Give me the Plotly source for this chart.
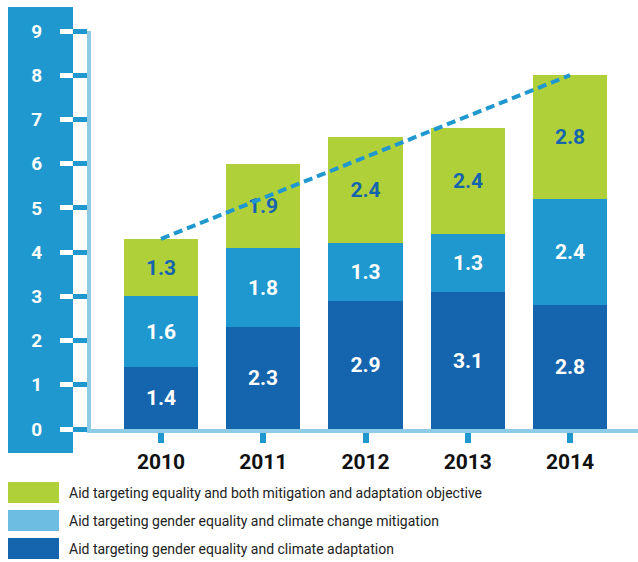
import plotly.graph_objects as go

# Data (USD billion)
years = ["2010", "2011", "2012", "2013", "2014"]
adaptation = [1.4, 2.3, 2.9, 3.1, 2.8]
mitigation = [1.6, 1.8, 1.3, 1.3, 2.4]
both = [1.3, 1.9, 2.4, 2.4, 2.8]
trend_years = ["2010", "2014"]
trend_values = [4.3, 8.0]
y_ticks = [0, 1, 2, 3, 4, 5, 6, 7, 8, 9]
legend_labels = [
    "Aid targeting equality and both mitigation and adaptation objective",
    "Aid targeting gender equality and climate change mitigation",
    "Aid targeting gender equality and climate adaptation",
]

W, H = 638, 562
DARK = "#1565AE"
MID = "#1E98CE"
GREEN = "#B0D03A"
LEGEND_COLORS = [GREEN, "#6CBDE1", DARK]
AXIS = "rgba(30,152,206,0.5)"
FONT = "Roboto"

# plot area in pixels
PX_LEFT, PX_TOP, PX_BOTTOM = 91, 31, 429
plot_h = PX_BOTTOM - PX_TOP


def px_x(px):
    return px / W


def px_y(py):
    return (PX_BOTTOM - py) / plot_h


fig = go.Figure()

series = [
    (adaptation, DARK, "white"),
    (mitigation, MID, "white"),
    (both, GREEN, DARK),
]
for vals, color, tcolor in series:
    fig.add_trace(go.Bar(
        x=years, y=vals, width=0.724,
        marker=dict(color=color, line=dict(width=0)),
        text=[f"{v:.1f}" for v in vals],
        textposition="inside", insidetextanchor="middle", textangle=0,
        textfont=dict(family=FONT, size=21, color=tcolor, weight="bold"),
        showlegend=False, hoverinfo="skip",
    ))

fig.add_trace(go.Scatter(
    x=trend_years, y=trend_values, mode="lines",
    line=dict(color=MID, width=4, dash="9px,5px"),
    showlegend=False, hoverinfo="skip",
))

# white tick labels on the blue band
fig.add_trace(go.Scatter(x=[None], y=[None], yaxis="y2", showlegend=False))

fig.update_layout(
    width=W, height=H,
    margin=dict(l=0, r=0, t=PX_TOP, b=H - PX_BOTTOM, pad=0),
    paper_bgcolor="white", plot_bgcolor="white",
    barmode="stack", bargap=0,
    xaxis=dict(
        domain=[px_x(PX_LEFT), 1],
        type="category", range=[-0.6846, 4.665],
        showline=True, linecolor=AXIS, linewidth=4,
        ticks="outside", ticklen=10, tickwidth=6, tickcolor=MID,
        tickfont=dict(family=FONT, size=21, color="#111", weight="bold"),
        ticklabelstandoff=1,
        showgrid=False, zeroline=False, fixedrange=True,
    ),
    yaxis=dict(
        range=[0, 9], tickvals=y_ticks,
        showline=True, linecolor=AXIS, linewidth=4,
        ticks="outside", ticklen=20, tickwidth=5, tickcolor=MID,
        showticklabels=False,
        showgrid=False, zeroline=False, fixedrange=True,
    ),
    yaxis2=dict(
        overlaying="y", anchor="free", position=px_x(73), side="left",
        range=[0, 9], tickvals=y_ticks,
        showline=False,
        ticks="outside", ticklen=13, tickwidth=5, tickcolor="white",
        tickfont=dict(family=FONT, size=19, color="white", weight="bold"),
        ticklabelstandoff=14,
        showgrid=False, zeroline=False, fixedrange=True,
    ),
    showlegend=False,
)

shapes = [dict(
    type="rect", xref="paper", yref="paper", layer="below",
    x0=px_x(8), x1=px_x(73), y0=px_y(453), y1=px_y(7),
    fillcolor=MID, line=dict(width=0),
)]
annotations = []
for i, (label, color) in enumerate(zip(legend_labels, LEGEND_COLORS)):
    top = 482 + i * 28
    shapes.append(dict(
        type="rect", xref="paper", yref="paper",
        x0=px_x(8), x1=px_x(59), y0=px_y(top + 21), y1=px_y(top),
        fillcolor=color, line=dict(width=0),
    ))
    annotations.append(dict(
        xref="paper", yref="paper", x=px_x(67), y=px_y(top + 10.5),
        xanchor="left", yanchor="middle", showarrow=False, text=label,
        font=dict(family=FONT, size=14, color="#222"),
    ))
fig.update_layout(shapes=shapes, annotations=annotations)

fig.write_html("out.html")
